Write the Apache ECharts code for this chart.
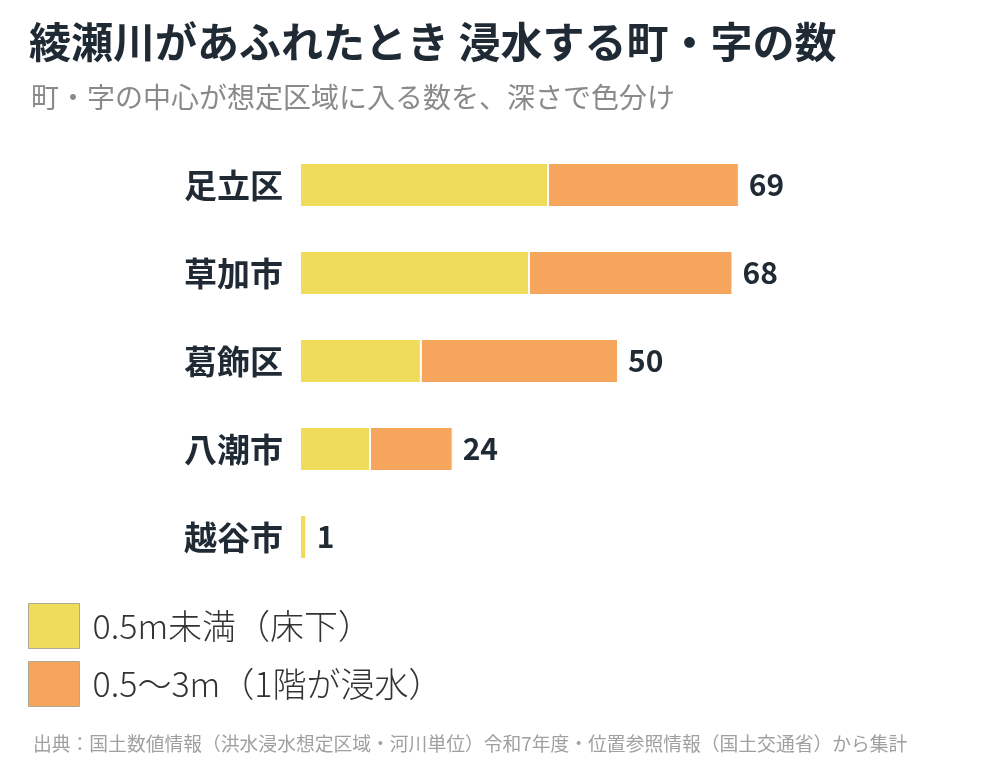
<!DOCTYPE html>
<html>
<head>
<meta charset="utf-8">
<script src="https://cdn.jsdelivr.net/npm/echarts@6/dist/echarts.min.js"></script>
<style>
    html, body { margin: 0; padding: 0; background: #fff; }
    #chart { width: 1000px; height: 766px; }
</style>
</head>
<body>
<div id="chart"></div>
<script>
    // 市区ごとの町・字の数
    var cities = ['足立区', '草加市', '葛飾区', '八潮市', '越谷市'];
    var shallow = [39, 36, 19, 11, 1];   // 0.5m未満（床下）
    var deep = [30, 32, 31, 13, 0];      // 0.5〜3m（1階が浸水）
    var seriesNames = ['0.5m未満（床下）', '0.5～3m（1階が浸水）'];

    var totals = cities.map(function (c, i) {
        return shallow[i] + deep[i];
    });

    var font = '"Noto Sans CJK JP", "Noto Sans", sans-serif';
    var dark = '#1f2a35';

    var chart = echarts.init(document.getElementById('chart'));
    chart.setOption({
        animation: false,
        textStyle: {fontFamily: font},
        title: [
            {
                text: '綾瀬川があふれたとき 浸水する町・字の数',
                left: 24,
                top: 16,
                textStyle: {fontSize: 42, fontWeight: 'bold', color: dark, fontFamily: font}
            },
            {
                text: '町・字の中心が想定区域に入る数を、深さで色分け',
                left: 26,
                top: 78,
                textStyle: {fontSize: 28, fontWeight: 'normal', color: '#8a8a8a', fontFamily: font}
            },
            {
                text: '出典：国土数値情報（洪水浸水想定区域・河川単位）令和7年度・位置参照情報（国土交通省）から集計',
                left: 28,
                top: 729,
                textStyle: {fontSize: 18.8, fontWeight: 'normal', color: '#a0a0a0', fontFamily: font}
            }
        ],
        legend: {
            orient: 'vertical',
            left: 28,
            top: 603,
            padding: 0,
            itemWidth: 51,
            itemHeight: 45,
            itemGap: 12,
            icon: 'rect',
            selectedMode: false,
            itemStyle: {borderColor: '#b0a890', borderWidth: 1},
            textStyle: {fontSize: 34, fontWeight: 300, color: '#333', fontFamily: font, padding: [0, 0, 0, 8]},
            data: seriesNames
        },
        grid: {
            left: 300,
            right: 64,
            top: 141,
            bottom: 185,
            containLabel: false
        },
        xAxis: {
            type: 'value',
            min: 0,
            max: 100,
            show: false
        },
        yAxis: {
            type: 'category',
            data: cities,
            inverse: true,
            axisLine: {show: false},
            axisTick: {show: false},
            axisLabel: {
                margin: 17,
                fontSize: 33,
                fontWeight: 'bold',
                color: dark,
                fontFamily: font
            }
        },
        series: [
            {
                name: seriesNames[0],
                type: 'bar',
                stack: 'total',
                data: shallow,
                barWidth: 44,
                itemStyle: {color: '#efdc5b', borderColor: '#fff', borderWidth: 1}
            },
            {
                name: seriesNames[1],
                type: 'bar',
                stack: 'total',
                data: deep,
                barWidth: 44,
                itemStyle: {color: '#f6a55c', borderColor: '#fff', borderWidth: 1},
                label: {
                    show: true,
                    position: 'right',
                    distance: 10,
                    fontSize: 30,
                    fontWeight: 'bold',
                    color: dark,
                    fontFamily: font,
                    formatter: function (p) {
                        return totals[p.dataIndex];
                    }
                }
            }
        ]
    });
</script>
</body>
</html>
